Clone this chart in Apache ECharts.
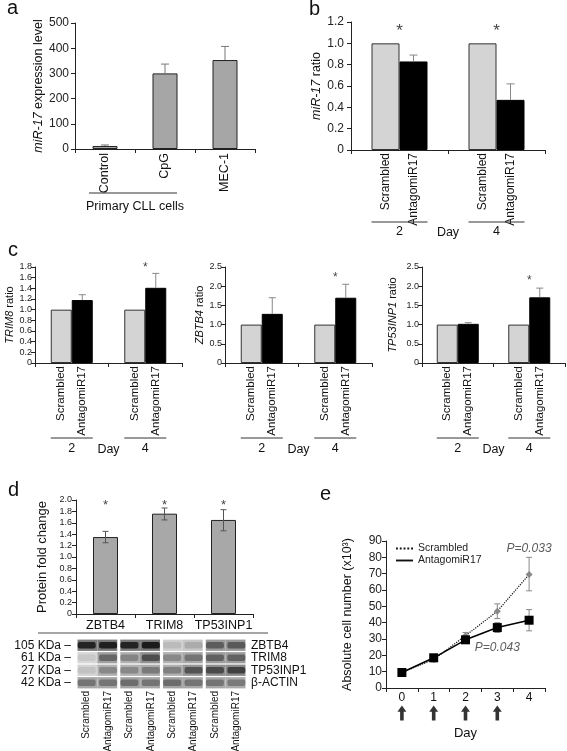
<!DOCTYPE html>
<html><head><meta charset="utf-8">
<script src="https://cdn.jsdelivr.net/npm/echarts@6/dist/echarts.min.js"></script>
<style>html,body{margin:0;padding:0;background:#fff}#c{width:567px;height:751px}</style>
</head><body><div id="c"></div>
<script>
// ---------- data ----------
// panel a
const aCategories = ['Control', 'CpG', 'MEC-1'];
const aValues = [12, 300, 353];
const aErrHigh = [16, 337, 407];
// panel b
const groupNames = ['Scrambled', 'AntagomiR17'];
const dayLabels = ['2', '4'];
const bScrambled = [1.0, 1.0];
const bAntagomir = [0.83, 0.47];
const bAntErrHigh = [0.89, 0.62];
const bStars = [1.14, 1.14];
// panel c
const cGenes = ['TRIM8', 'ZBTB4', 'TP53INP1'];
const cScrambled = [[1, 1], [1, 1], [1, 1]];
const cAntagomir = [[1.18, 1.41], [1.28, 1.70], [1.02, 1.71]];
const cAntErrHigh = [[1.28, 1.68], [1.70, 2.05], [1.05, 1.95]];
const cStars = [[null, 1.84], [null, 2.29], [null, 2.21]];
const cYMax = [1.8, 2.5, 2.5];
const cYStep = [0.2, 0.5, 0.5];
// panel d
const dProteins = ['ZBTB4', 'TRIM8', 'TP53INP1'];
const dFold = [1.35, 1.76, 1.65];
const dErrLow = [1.25, 1.65, 1.46];
const dErrHigh = [1.45, 1.86, 1.83];
const dStars = [1.95, 1.95, 1.95];
const blotLanes = ['Scrambled', 'AntagomiR17', 'Scrambled', 'AntagomiR17', 'Scrambled', 'AntagomiR17', 'Scrambled', 'AntagomiR17'];
const blotRows = ['ZBTB4', 'TRIM8', 'TP53INP1', 'β-ACTIN'];
const blotSizes = ['105 KDa', '61 KDa', '27 KDa', '42 KDa'];
const blotIntensity = [
  [0.90, 0.92, 0.90, 0.94, 0.12, 0.20, 0.60, 0.62],
  [0.05, 0.55, 0.40, 0.68, 0.38, 0.48, 0.58, 0.58],
  [0.08, 0.38, 0.38, 0.45, 0.42, 0.65, 0.70, 0.75],
  [0.48, 0.48, 0.52, 0.48, 0.52, 0.48, 0.48, 0.45]
];
// panel e
const eDays = ['0', '1', '2', '3', '4'];
const eScrambled = [9.5, 17.5, 32, 47, 69.5];
const eScrLow = [9, 16, 30, 42.5, 59.5];
const eScrHigh = [10, 19.5, 34, 51.5, 80];
const eAntagomir = [9.5, 18.5, 29.5, 37, 41.5];
const eAntLow = [9, 17, 28, 34, 35];
const eAntHigh = [10, 20, 31, 40, 48];
const eTreatDays = ['0', '1', '2', '3'];
const ePValues = [['4', 85.5, 'P=0.033'], ['3', 25, 'P=0.043']];

// ---------- build ----------
const FONT = '"Liberation Sans", Arial, Helvetica, sans-serif';
const AX = '#222';
const grid = [], xAxis = [], yAxis = [], series = [];
function addGrid(g) { g.outerBoundsMode = 'none'; g.containLabel = false; grid.push(g); return grid.length - 1; }
function fmtDec(v) { return v === 0 ? '0' : v.toFixed(1); }
function fmtInt(v) { return String(Math.round(v)); }

function yVal(gi, max, step, fontSize, margin, name, nameGap, nameSize, fmt) {
  yAxis.push({
    gridIndex: gi, type: 'value', min: 0, max: max, interval: step,
    axisLine: { show: true, lineStyle: { color: AX, width: 1 } },
    axisTick: { show: true, length: 4, lineStyle: { color: AX } },
    splitLine: { show: false },
    axisLabel: { fontSize: fontSize, margin: margin, color: '#222', fontFamily: FONT, formatter: fmt },
    name: name, nameLocation: 'middle', nameGap: nameGap, nameRotate: 90,
    nameTextStyle: { fontSize: nameSize, color: '#111', fontFamily: FONT,
      rich: { i: { fontStyle: 'italic', fontSize: nameSize, fontFamily: FONT, color: '#111' } } }
  });
  return yAxis.length - 1;
}
function xCat(gi, data, extra) {
  xAxis.push(Object.assign({
    gridIndex: gi, type: 'category', data: data,
    axisLine: { show: true, lineStyle: { color: AX, width: 1 } },
    axisTick: { show: true, length: 4, lineStyle: { color: AX } },
    axisLabel: { show: false }
  }, extra || {}));
  return xAxis.length - 1;
}
function errSeries(xi, yi, data, offset, cap, color, twoSided) {
  series.push({
    type: 'custom', xAxisIndex: xi, yAxisIndex: yi, z: 5, clip: false,
    encode: { x: 0, y: [1, 2] }, data: data,
    renderItem: function (params, api) {
      const x = api.value(0);
      const p1 = api.coord([x, api.value(1)]);
      const p2 = api.coord([x, api.value(2)]);
      const cx = p1[0] + offset;
      const st = { stroke: color, lineWidth: 1 };
      const ch = [
        { type: 'line', shape: { x1: cx, y1: p1[1], x2: cx, y2: p2[1] }, style: st },
        { type: 'line', shape: { x1: cx - cap / 2, y1: p2[1], x2: cx + cap / 2, y2: p2[1] }, style: st }
      ];
      if (twoSided) ch.push({ type: 'line', shape: { x1: cx - cap / 2, y1: p1[1], x2: cx + cap / 2, y2: p1[1] }, style: st });
      return { type: 'group', children: ch };
    }
  });
}
function starSeries(xi, yi, data, size) {
  series.push({
    type: 'scatter', xAxisIndex: xi, yAxisIndex: yi, symbolSize: 0, clip: false, z: 6,
    data: data,
    label: { show: true, position: 'inside', formatter: '*', fontSize: size, color: '#111', fontFamily: FONT, offset: [0, size * 0.2] }
  });
}
function dayGroupSeries(xi, yi, bw, lineOff, textOff) {
  series.push({
    type: 'custom', xAxisIndex: xi, yAxisIndex: yi, clip: false, z: 3,
    encode: { x: 0, y: 1 },
    data: dayLabels.map(function (d, i) { return [i, 0]; }),
    renderItem: function (params, api) {
      const c = api.coord([api.value(0), 0]);
      return { type: 'group', children: [
        { type: 'line', shape: { x1: c[0] - bw, y1: c[1] + lineOff, x2: c[0] + bw, y2: c[1] + lineOff }, style: { stroke: '#333', lineWidth: 1 } },
        { type: 'text', x: c[0], y: c[1] + textOff, style: { text: dayLabels[params.dataIndex], fontSize: 12.5, fontFamily: FONT, fill: '#111', align: 'center', verticalAlign: 'middle' } }
      ] };
    }
  });
}
function groupLabel(k, size) {
  return { show: true, position: 'bottom', distance: 3, rotate: 90, align: 'right', verticalAlign: 'middle',
    formatter: function () { return groupNames[k]; }, fontSize: size, color: '#111', fontFamily: FONT };
}

// ----- panel a -----
{
  const gi = addGrid({ left: 75, top: 23, width: 180, height: 126 });
  const xi = xCat(gi, aCategories, { axisLabel: { show: true, interval: 0, rotate: 90, fontSize: 12.5, margin: 4, color: '#111', fontFamily: FONT } });
  const yi = yVal(gi, 500, 100, 12, 6, '{i|miR-17} expression level', 29, 12.5, fmtInt);
  series.push({ type: 'bar', name: 'a', xAxisIndex: xi, yAxisIndex: yi, data: aValues, barWidth: 25,
    itemStyle: { color: '#a6a6a6', borderColor: '#222', borderWidth: 1 } });
  errSeries(xi, yi, aValues.map(function (v, i) { return [i, v, aErrHigh[i]]; }), 0, 8, '#777', false);
}
// ----- panel b -----
{
  const gi = addGrid({ left: 351, top: 22, width: 194, height: 128 });
  const xi = xCat(gi, dayLabels, { name: 'Day', nameLocation: 'middle', nameGap: 76,
    nameTextStyle: { fontSize: 12.5, color: '#111', fontFamily: FONT } });
  const yi = yVal(gi, 1.2, 0.2, 12, 7, '{i|miR-17} ratio', 26, 12.5, fmtDec);
  series.push({ type: 'bar', name: 'b-scr', xAxisIndex: xi, yAxisIndex: yi, data: bScrambled, barWidth: 28, barGap: '0%',
    itemStyle: { color: '#d4d4d4', borderColor: '#333', borderWidth: 1 }, label: groupLabel(0, 12) });
  series.push({ type: 'bar', name: 'b-ant', xAxisIndex: xi, yAxisIndex: yi, data: bAntagomir, barWidth: 28, barGap: '0%',
    itemStyle: { color: '#000', borderColor: '#000', borderWidth: 1 }, label: groupLabel(1, 12) });
  errSeries(xi, yi, bAntagomir.map(function (v, i) { return [i, v, bAntErrHigh[i]]; }), 14, 8, '#888', false);
  starSeries(xi, yi, bStars.map(function (v, i) { return [i, v]; }), 17);
  dayGroupSeries(xi, yi, 28, 72, 82);
}
// ----- panel c -----
const cLefts = [35, 225, 422], cWidths = [147, 147, 143], cNameGaps = [17, 17, 24];
for (let k = 0; k < 3; k++) {
  const gi = addGrid({ left: cLefts[k], top: 267, width: cWidths[k], height: 96 });
  const xi = xCat(gi, dayLabels, { name: 'Day', nameLocation: 'middle', nameGap: 80,
    nameTextStyle: { fontSize: 12.5, color: '#111', fontFamily: FONT } });
  const yi = yVal(gi, cYMax[k], cYStep[k], 9, 3, '{i|' + cGenes[k] + '} ratio', cNameGaps[k], 11, fmtDec);
  series.push({ type: 'bar', name: 'c-scr' + k, xAxisIndex: xi, yAxisIndex: yi, data: cScrambled[k], barWidth: 21, barGap: '0%',
    itemStyle: { color: '#d4d4d4', borderColor: '#333', borderWidth: 1 }, label: groupLabel(0, 11.5) });
  series.push({ type: 'bar', name: 'c-ant' + k, xAxisIndex: xi, yAxisIndex: yi, data: cAntagomir[k], barWidth: 21, barGap: '0%',
    itemStyle: { color: '#000', borderColor: '#000', borderWidth: 1 }, label: groupLabel(1, 11.5) });
  errSeries(xi, yi, cAntagomir[k].map(function (v, i) { return [i, v, cAntErrHigh[k][i]]; }), 10.5, 7, '#888', false);
  starSeries(xi, yi, cStars[k].map(function (v, i) { return [i, v]; }).filter(function (p) { return p[1] != null; }), 12);
  dayGroupSeries(xi, yi, 21, 75, 86);
}
// ----- panel d (bars) -----
{
  const gi = addGrid({ left: 76, top: 500, width: 177, height: 114 });
  const xi = xCat(gi, dProteins, { axisLabel: { show: true, interval: 0, fontSize: 12.5, margin: 5, color: '#111', fontFamily: FONT } });
  const yi = yVal(gi, 2.0, 0.2, 9, 4, 'Protein fold change', 27, 13, fmtDec);
  series.push({ type: 'bar', name: 'd', xAxisIndex: xi, yAxisIndex: yi, data: dFold, barWidth: 25,
    itemStyle: { color: '#a8a8a8', borderColor: '#222', borderWidth: 1 } });
  errSeries(xi, yi, dFold.map(function (v, i) { return [i, dErrLow[i], dErrHigh[i]]; }), 0, 6, '#555', true);
  starSeries(xi, yi, dStars.map(function (v, i) { return [i, v]; }), 13);
}
// ----- panel d (blot) -----
{
  const gi = addGrid({ left: 76, top: 639, width: 171, height: 50 });
  const xi = xCat(gi, blotLanes, { axisLine: { show: false }, axisTick: { show: false },
    axisLabel: { show: true, interval: 0, rotate: 90, fontSize: 10, margin: 2, color: '#111', fontFamily: FONT } });
  yAxis.push({ gridIndex: gi, type: 'category', data: blotSizes, inverse: true,
    axisLine: { show: false }, axisTick: { show: false }, splitLine: { show: false },
    axisLabel: { interval: 0, fontSize: 12, margin: 5, color: '#111', fontFamily: FONT, formatter: function (v) { return v + ' \u2013'; } } });
  const yi = yAxis.length - 1;
  yAxis.push({ gridIndex: gi, type: 'category', data: blotRows, inverse: true, position: 'right',
    axisLine: { show: false }, axisTick: { show: false }, splitLine: { show: false },
    axisLabel: { interval: 0, fontSize: 12, margin: 4, color: '#111', fontFamily: FONT } });
  const blotData = [];
  blotIntensity.forEach(function (row, r) { row.forEach(function (v, l) { blotData.push([l, r, v]); }); });
  series.push({
    type: 'custom', xAxisIndex: xi, yAxisIndex: yi, encode: { x: 0, y: 1 }, data: blotData,
    renderItem: function (params, api) {
      const lane = api.value(0), row = api.value(1), v = api.value(2);
      const c = api.coord([lane, row]);
      const s = api.size([1, 1]);
      const w = s[0], h = s[1];
      let x0 = c[0] - w / 2, x1 = c[0] + w / 2;
      if (lane % 2 === 0) x0 += 1.5; else x1 -= 1.5;
      const y0 = c[1] - h / 2 + 0.6, y1 = c[1] + h / 2 - 0.6;
      const bg = Math.round(220 - 110 * v), band = Math.round(210 - 195 * v);
      return { type: 'group', children: [
        { type: 'rect', shape: { x: x0, y: y0, width: x1 - x0, height: y1 - y0 }, style: { fill: 'rgb(' + bg + ',' + bg + ',' + bg + ')' } },
        { type: 'rect', shape: { x: c[0] - w * 0.42, y: c[1] - h * 0.26, width: w * 0.84, height: h * 0.52, r: 2 },
          style: { fill: 'rgb(' + band + ',' + band + ',' + band + ')' } }
      ] };
    }
  });
}
// ----- panel e -----
{
  const gi = addGrid({ left: 386, top: 541, width: 159, height: 147 });
  const xi = xCat(gi, eDays, { axisLabel: { show: true, interval: 0, fontSize: 12, margin: 4, color: '#111', fontFamily: FONT },
    name: 'Day', nameLocation: 'middle', nameGap: 39, nameTextStyle: { fontSize: 13, color: '#111', fontFamily: FONT } });
  const yi = yVal(gi, 90, 10, 12, 4, 'Absolute cell number (x10\u00b3)', 32, 12.5, fmtInt);
  errSeries(xi, yi, eScrambled.map(function (v, i) { return [i, eScrLow[i], eScrHigh[i]]; }), 0, 6, '#888', true);
  errSeries(xi, yi, eAntagomir.map(function (v, i) { return [i, eAntLow[i], eAntHigh[i]]; }), 0, 6, '#888', true);
  series.push({ type: 'line', name: 'Scrambled', xAxisIndex: xi, yAxisIndex: yi, data: eScrambled, z: 6,
    symbol: 'diamond', symbolSize: 7, itemStyle: { color: '#888' },
    lineStyle: { type: 'dotted', color: '#111', width: 1.2 } });
  series.push({ type: 'line', name: 'AntagomiR17', xAxisIndex: xi, yAxisIndex: yi, data: eAntagomir, z: 7,
    symbol: 'rect', symbolSize: 9, itemStyle: { color: '#000' },
    lineStyle: { type: 'solid', color: '#000', width: 1.5 } });
  series.push({ type: 'scatter', xAxisIndex: xi, yAxisIndex: yi, symbolSize: 0, clip: false, z: 8,
    data: ePValues.map(function (p) { return [p[0], p[1]]; }),
    label: { show: true, position: 'inside', fontStyle: 'italic', fontSize: 12, color: '#333', fontFamily: FONT,
      formatter: function (p) { return ePValues[p.dataIndex][2]; } } });
  // arrows marking treatment days
  const ga = addGrid({ left: 386, top: 703, width: 159, height: 20 });
  const xa = xCat(ga, eDays, { show: false });
  yAxis.push({ gridIndex: ga, type: 'value', min: 0, max: 1, show: false });
  const ya = yAxis.length - 1;
  series.push({ type: 'scatter', xAxisIndex: xa, yAxisIndex: ya, clip: false,
    data: eTreatDays.map(function (d) { return [d, 0.5]; }),
    symbol: 'path://M5,0 L10,7 L7,7 L7,17 L3,17 L3,7 L0,7 Z', symbolSize: [9, 15], symbolKeepAspect: false,
    itemStyle: { color: '#000' } });
}

const option = {
  animation: false,
  backgroundColor: '#fff',
  textStyle: { fontFamily: FONT },
  grid: grid, xAxis: xAxis, yAxis: yAxis, series: series,
  legend: {
    orient: 'vertical', left: 391, top: 538, itemGap: 1, itemWidth: 17, itemHeight: 2,
    data: [
      { name: 'Scrambled', icon: 'path://M0,0h2v2h-2zM4,0h2v2h-2zM8,0h2v2h-2zM12,0h2v2h-2zM16,0h2v2h-2z' },
      { name: 'AntagomiR17', icon: 'path://M0,0h18v2h-18z' }
    ],
    itemStyle: { color: '#111' },
    textStyle: { fontSize: 10.5, color: '#222', fontFamily: FONT },
    selectedMode: false
  },
  graphic: [
    { type: 'text', left: 7, top: -2, style: { text: 'a', fontSize: 20, fontFamily: FONT, fill: '#111' } },
    { type: 'text', left: 309, top: -1, style: { text: 'b', fontSize: 20, fontFamily: FONT, fill: '#111' } },
    { type: 'text', left: 8, top: 240, style: { text: 'c', fontSize: 20, fontFamily: FONT, fill: '#111' } },
    { type: 'text', left: 8, top: 480, style: { text: 'd', fontSize: 20, fontFamily: FONT, fill: '#111' } },
    { type: 'text', left: 320, top: 484, style: { text: 'e', fontSize: 20, fontFamily: FONT, fill: '#111' } },
    { type: 'line', shape: { x1: 89, y1: 193, x2: 177, y2: 193 }, style: { stroke: '#333', lineWidth: 1 } },
    { type: 'text', x: 135, y: 207, style: { text: 'Primary CLL cells', fontSize: 12.5, fontFamily: FONT, fill: '#111', align: 'center', verticalAlign: 'middle' } },
    { type: 'line', shape: { x1: 38, y1: 633, x2: 268, y2: 633 }, style: { stroke: '#888', lineWidth: 1.5 } }
  ]
};
const chart = echarts.init(document.getElementById('c'), null, { renderer: 'canvas', width: 567, height: 751 });
chart.setOption(option);
</script>
</body></html>
